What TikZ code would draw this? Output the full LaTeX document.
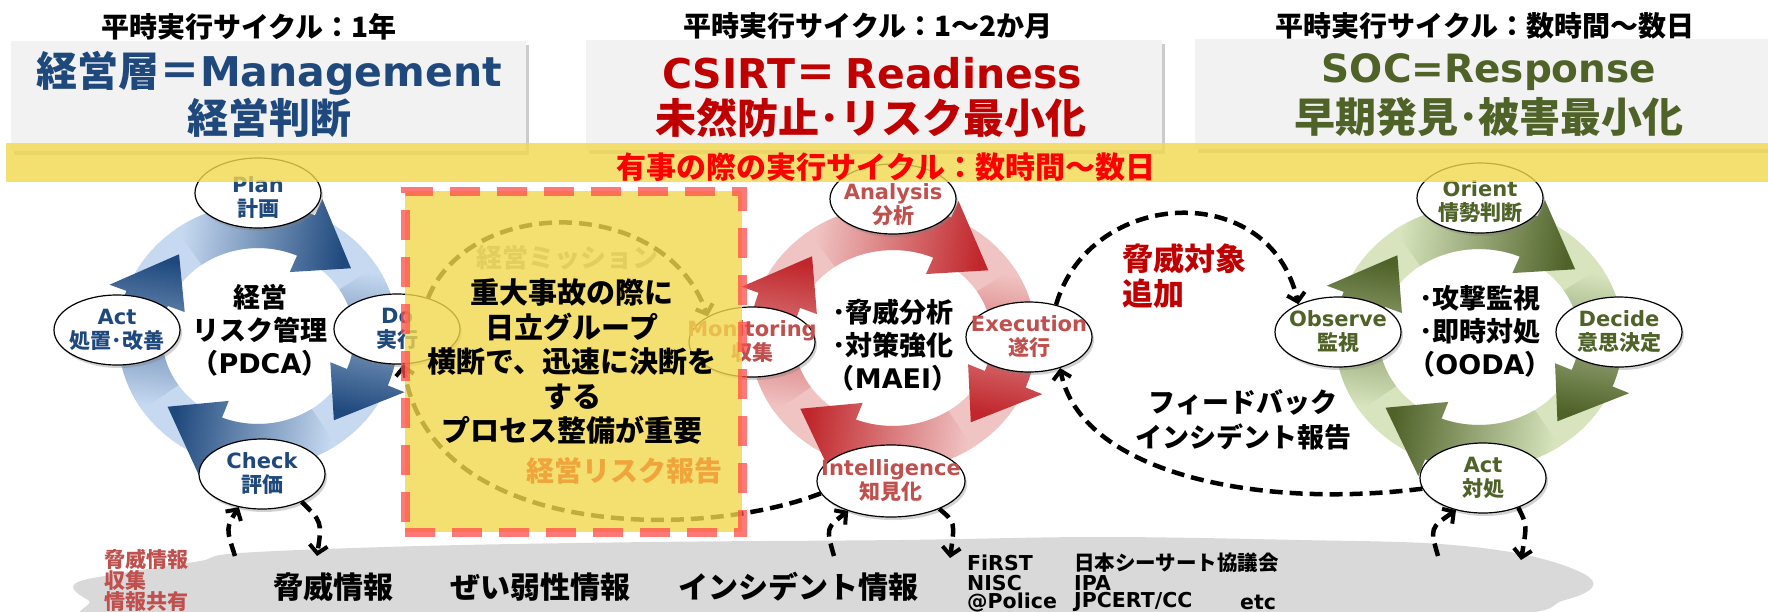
\documentclass[tikz,border=0pt]{standalone}
\usepackage{fontspec}
\setmainfont{Noto Sans CJK JP}
\newfontfamily\dv{DejaVu Sans}
\usetikzlibrary{shapes.geometric,shadows,arrows.meta}

\definecolor{mblue}{HTML}{1F497D}
\definecolor{mred}{HTML}{C00000}
\definecolor{mgreen}{HTML}{4F6228}
\definecolor{lred}{HTML}{C0504D}
\definecolor{bandy}{HTML}{F2D84E}
\definecolor{boxg}{HTML}{F2F2F2}
\definecolor{cloudg}{HTML}{D9D9D9}
\definecolor{dashr}{HTML}{FF4B4B}
\definecolor{orng}{HTML}{F0A53C}
\definecolor{brightred}{HTML}{FF0000}
\definecolor{pdL}{HTML}{C6D9F1}
\definecolor{pdD}{HTML}{1F497D}
\definecolor{rdL}{HTML}{F0C4C3}
\definecolor{rdD}{HTML}{C0262B}
\definecolor{gnL}{HTML}{D7E4BD}
\definecolor{gnD}{HTML}{4F6228}

\newcommand\ringbase[5]{%
  \fill[#5, even odd rule]
    plot[domain=0:360, samples=91] ({#1+(#3+22)*cos(\x)},{#2+(#4+22)*sin(\x)}) -- cycle
    plot[domain=0:360, samples=91] ({#1+(#3-22)*cos(\x)},{#2+(#4-22)*sin(\x)}) -- cycle;
}
\newcommand\ringarrow[8]{%
  \pgfmathsetmacro\hdang{#6-28}%
  \pgfmathsetmacro\ddx{(#3)*cos(#6)-(#3)*cos(#5)}%
  \pgfmathsetmacro\ddy{(#4)*sin(#6)-(#4)*sin(#5)}%
  \pgfmathsetmacro\sang{atan2(-\ddy,\ddx)+90}%
  \shade[left color=#7, middle color=#7!80!#8, right color=#8, shading angle=\sang]
    plot[domain=#5:\hdang, samples=30] ({#1+(#3+22)*cos(\x)},{#2+(#4+22)*sin(\x)})
    -- ({#1+(#3+40)*cos(\hdang)},{#2+(#4+40)*sin(\hdang)})
    -- ({#1+#3*cos(#6)},{#2+#4*sin(#6)})
    -- ({#1+(#3-40)*cos(\hdang)},{#2+(#4-40)*sin(\hdang)})
    -- plot[domain=\hdang:#5, samples=30] ({#1+(#3-22)*cos(\x)},{#2+(#4-22)*sin(\x)})
    -- cycle;
}

\begin{document}
\begin{tikzpicture}[x=1pt,y=-1pt,
  gbox/.style={rectangle, fill=boxg, inner sep=0pt, drop shadow={opacity=0.4, shadow xshift=3pt, shadow yshift=-4pt}},
  htxt/.style={font=\fontsize{28}{30}\selectfont\bfseries, inner sep=0pt},
  btxt/.style={font=\fontsize{41}{44}\selectfont\bfseries, inner sep=0pt},
  elp/.style={ellipse, draw=black, line width=1.2pt, fill=white, minimum width=126pt, minimum height=70pt, inner sep=0pt, drop shadow={opacity=0.35, shadow xshift=2pt, shadow yshift=-3pt}},
  elab/.style={align=center, inner sep=0pt, font=\fontsize{21}{24}\selectfont\bfseries},
  ctxt/.style={align=center, inner sep=0pt, font=\fontsize{27}{33}\selectfont\bfseries},
  dsh/.style={line width=4.5pt, dash pattern=on 13pt off 7pt, -{Straight Barb[length=8pt,width=18pt,line width=4pt]}},
  cltxt/.style={font=\fontsize{30}{32}\selectfont\bfseries, inner sep=0pt},
  orgtxt/.style={font=\fontsize{20.5}{22}\selectfont\bfseries, inner sep=0pt, anchor=west},
]
\useasboundingbox (0,0) rectangle (1768,611);
\clip (0,0) rectangle (1768,611);
\fill[white] (0,0) rectangle (1768,611);

% ---- top gray boxes and headings
\node[gbox, minimum width=515pt, minimum height=110pt] (box1) at (268.5,96) {};
\node[gbox, minimum width=576pt, minimum height=110pt] (box2) at (874,95) {};
\node[gbox, minimum width=580pt, minimum height=110pt] (box3) at (1485,94) {};

\node[htxt] (h1) at (249,27) {平時実行サイクル：1年};
\node[htxt] (h2) at (868,26) {平時実行サイクル：1～2か月};
\node[htxt] (h3) at (1485,26) {平時実行サイクル：数時間～数日};

\node[btxt, text=mblue] (b1a) at (269,73) {経営層＝{\dv Management}};
\node[btxt, text=mblue] (b1b) at (269,118) {経営判断};
\node[btxt, text=mred] (b2a) at (872,73) {{\dv CSIRT}＝ {\dv Readiness}};
\node[btxt, text=mred] (b2b) at (871,118) {未然防止･リスク最小化};
\node[btxt, text=mgreen, font=\fontsize{39}{44}\selectfont\bfseries] (b3a) at (1489,72) {{\dv SOC=Response}};
\node[btxt, text=mgreen] (b3b) at (1489,117) {早期発見･被害最小化};

% ---- cloud
\fill[cloudg] plot[smooth cycle, tension=0.6] coordinates {(76,583) (130,572) (200,561) (240,553) (420,546) (650,542) (900,540) (1100,537) (1300,540) (1440,544) (1535,557) (1592,580) (1565,600) (1450,618) (800,630) (150,625) (88,600)};
\node[anchor=west, align=left, inner sep=0pt, text=lred, font=\fontsize{21}{21}\selectfont\bfseries] (cl0) at (104,580) {脅威情報\\収集\\情報共有};
\node[cltxt] (cl1) at (333,587) {脅威情報};
\node[cltxt] (cl2) at (540,587) {ぜい弱性情報};
\node[cltxt] (cl3) at (798,587) {インシデント情報};
\node[orgtxt] (o1) at (967,563) {{\dv FiRST}};
\node[orgtxt] (o2) at (1074,563) {日本シーサート協議会};
\node[orgtxt] (o3) at (967,583) {{\dv NISC}};
\node[orgtxt] (o4) at (1074,583) {{\dv IPA}};
\node[orgtxt] (o5) at (967,602) {{\dv @Police}};
\node[orgtxt] (o6) at (1074,602) {{\dv JPCERT/CC}};
\node[orgtxt] (o7) at (1240,602) {{\dv etc}};

% ---- rings
\ringbase{258}{336}{118}{110}{pdL}
\ringarrow{258}{336}{118}{110}{-126}{-38}{pdL}{pdD}
\ringarrow{258}{336}{118}{110}{-32}{50}{pdL}{pdD}
\ringarrow{258}{336}{118}{110}{56}{140}{pdL}{pdD}
\ringarrow{258}{336}{118}{110}{146}{228}{pdL}{pdD}

\ringbase{893}{338}{121}{110}{rdL}
\ringarrow{893}{338}{121}{110}{-126}{-38}{rdL}{rdD}
\ringarrow{893}{338}{121}{110}{-32}{50}{rdL}{rdD}
\ringarrow{893}{338}{121}{110}{56}{140}{rdL}{rdD}
\ringarrow{893}{338}{121}{110}{146}{228}{rdL}{rdD}

\ringbase{1479}{337}{122}{110}{gnL}
\ringarrow{1479}{337}{122}{110}{-126}{-38}{gnL}{gnD}
\ringarrow{1479}{337}{122}{110}{-32}{50}{gnL}{gnD}
\ringarrow{1479}{337}{122}{110}{56}{140}{gnL}{gnD}
\ringarrow{1479}{337}{122}{110}{146}{228}{gnL}{gnD}

% ---- ellipses
\node[elp] (plan) at (258,193) {};
\node[elab, text=mblue] (planl) at (258,198) {{\dv Plan}\\計画};
\node[elp] (do) at (397,329) {};
\node[elab, text=mblue] (dol) at (do) {{\dv Do}\\実行};
\node[elp] (check) at (262,474) {};
\node[elab, text=mblue] (checkl) at (check) {{\dv Check}\\評価};
\node[elp] (act) at (117,330) {};
\node[elab, text=mblue] (actl) at (act) {{\dv Act}\\処置･改善};

\node[elp] (ana) at (893,199) {};
\node[elab, text=lred] (anal) at (893,205) {{\dv Analysis}\\分析};
\node[elp] (exe) at (1029,337) {};
\node[elab, text=lred] (exel) at (exe) {{\dv Execution}\\遂行};
\node[elp, minimum width=148pt, minimum height=72pt] (intel) at (891,481) {};
\node[elab, text=lred] (intell) at (intel) {{\dv Intelligence}\\知見化};
\node[elp] (mon) at (752,342) {};
\node[elab, text=lred] (monl) at (mon) {{\dv Monitoring}\\収集};

\node[elp] (ori) at (1480,198) {};
\node[elab, text=mgreen] (oril) at (1480,202) {{\dv Orient}\\情勢判断};
\node[elp] (obs) at (1338,332) {};
\node[elab, text=mgreen] (obsl) at (obs) {{\dv Observe}\\監視};
\node[elp] (dec) at (1619,332) {};
\node[elab, text=mgreen] (decl) at (dec) {{\dv Decide}\\意思決定};
\node[elp] (act2) at (1483,478) {};
\node[elab, text=mgreen] (act2l) at (act2) {{\dv Act}\\対処};

% ---- centre texts
\node[ctxt] (pdcat) at (260,330) {経営\\リスク管理\\（{\dv PDCA}）};
\node[ctxt] (maeit) at (893,345) {･脅威分析\\･対策強化\\（{\dv MAEI}）};
\node[ctxt] (oodat) at (1480,331) {･攻撃監視\\･即時対処\\（{\dv OODA}）};

\node[anchor=west, align=left, inner sep=0pt, text=mred, font=\fontsize{31}{35}\selectfont\bfseries] (tadd) at (1122,276) {脅威対象\\追加};
\node[align=center, inner sep=0pt, font=\fontsize{27}{35}\selectfont\bfseries] (fb) at (1243,420) {フィードバック\\インシデント報告};

% ---- dashed connectors
\coordinate (cA1) at (235,556);
\coordinate (cA2) at (317,556);
\coordinate (cB1) at (834,556);
\coordinate (cB2) at (950,558);
\coordinate (cC1) at (1438,556);
\coordinate (cC2) at (1521,560);
\draw[dsh] (cA1) .. controls (226,528) .. (check.235);
\draw[dsh] (check.-35) .. controls (322,522) .. (cA2);
\draw[dsh] (cB1) .. controls (826,528) .. (intel.215);
\draw[dsh] (intel.-30) .. controls (955,522) .. (cB2);
\draw[dsh] (cC1) .. controls (1430,528) .. (act2.230);
\draw[dsh] (act2.-40) .. controls (1527,525) .. (cC2);

\draw[dsh] (exe.50) .. controls (1090,188) and (1270,178) .. (obs.145);
\draw[dsh] (act2.190) .. controls (1250,510) and (1080,470) .. (exe.-45);
\draw[dsh] (intel.190) .. controls (700,540) and (430,540) .. (do.-80);
\draw[dsh] (do.45) .. controls (470,195) and (665,195) .. (mon.150);

\node[inner sep=0pt, text=black!35, font=\fontsize{26}{28}\selectfont\bfseries] (mis) at (567,258) {経営ミッション};

% ---- yellow box
\node[draw=dashr, draw opacity=0.75, fill=bandy, fill opacity=0.8, line width=9pt, dash pattern=on 30pt off 17pt, minimum width=337pt, minimum height=341pt, inner sep=0pt] (ybox) at (573.5,361.5) {};

% ---- yellow band
\node[fill=bandy, fill opacity=0.8, minimum width=1762pt, minimum height=39pt, inner sep=0pt] (band) at (887,162.5) {};
\node[inner sep=0pt, text=brightred, font=\fontsize{30}{32}\selectfont\bfseries] (bandt) at (886,167) {有事の際の実行サイクル：数時間～数日};

\node[align=center, inner sep=0pt, font=\fontsize{29}{34.5}\selectfont\bfseries] (ytxt) at (572,362) {重大事故の際に\\日立グループ\\横断で、迅速に決断を\\する\\プロセス整備が重要};
\node[inner sep=0pt, text=orng, font=\fontsize{28}{30}\selectfont\bfseries] (risk) at (624,471) {経営リスク報告};
\end{tikzpicture}
\end{document}
